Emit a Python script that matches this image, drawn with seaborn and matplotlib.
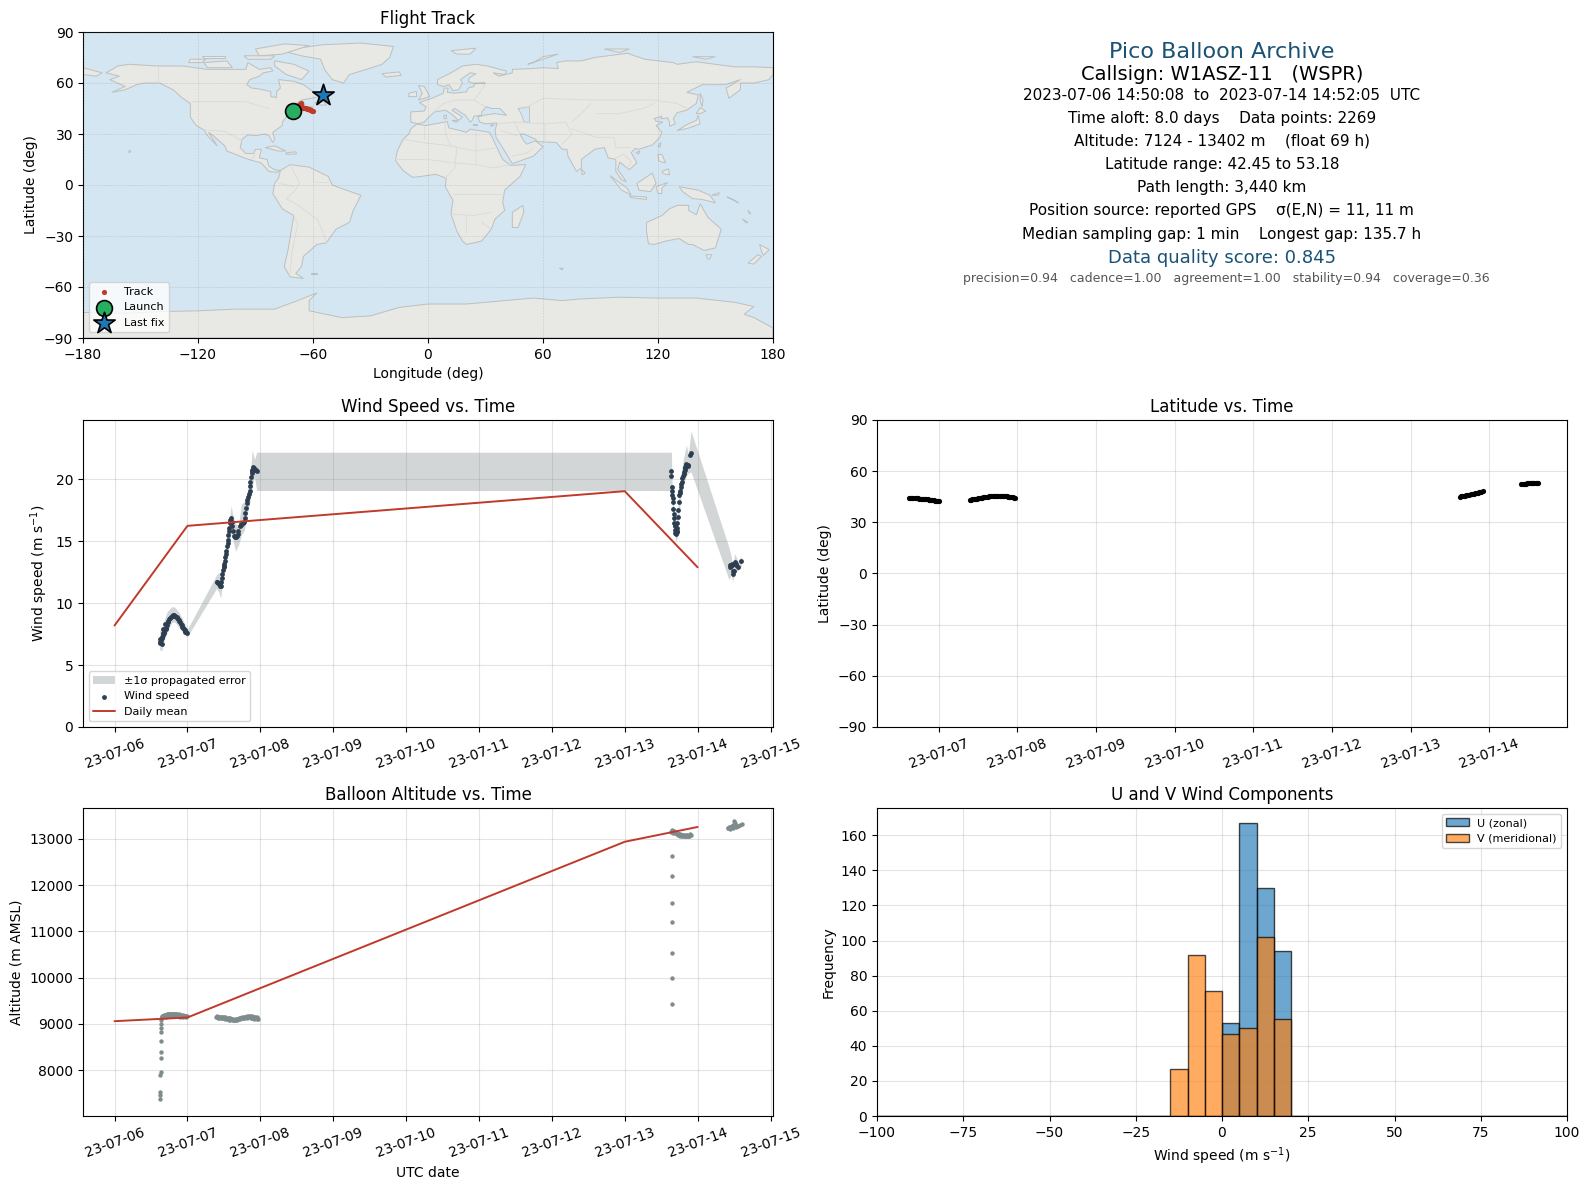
import matplotlib
matplotlib.use('Agg')
import matplotlib.pyplot as plt
import matplotlib.dates as mdates
from matplotlib.colors import to_rgba
import numpy as np
import pandas as pd
import seaborn as sns

# ---- wind speed, day of July 2023 ----
wind_days = [6.62, 6.625, 6.63, 6.64, 6.645, 6.65, 6.655, 6.66, 6.665, 6.67, 6.68, 6.685, 6.69, 6.70, 6.71, 6.72, 6.73,
             6.74, 6.75, 6.76, 6.77, 6.785, 6.80, 6.81, 6.82, 6.835, 6.85, 6.86, 6.87, 6.88, 6.89, 6.90, 6.91, 6.92, 6.93,
             6.94, 6.95, 6.96, 6.97, 6.98, 6.99,
             7.40, 7.41, 7.42, 7.43, 7.44, 7.45, 7.456, 7.463, 7.47, 7.48, 7.488, 7.495, 7.50, 7.505, 7.51, 7.518, 7.524,
             7.53, 7.54, 7.55, 7.556, 7.563, 7.57, 7.577, 7.584, 7.59, 7.597, 7.605, 7.615, 7.625, 7.638, 7.65, 7.66, 7.672,
             7.684, 7.69, 7.70, 7.716, 7.73, 7.74, 7.76, 7.775, 7.785, 7.79, 7.80, 7.812, 7.82, 7.83, 7.84, 7.853, 7.86,
             7.865, 7.875, 7.88, 7.885, 7.89, 7.90, 7.91, 7.92, 7.93, 7.945, 7.96,
             13.64, 13.64, 13.645, 13.65, 13.654, 13.66, 13.664, 13.668, 13.673, 13.676, 13.68, 13.685, 13.69, 13.693, 13.696,
             13.70, 13.705, 13.71, 13.714, 13.72, 13.723, 13.73, 13.737, 13.746, 13.75, 13.755, 13.76, 13.769, 13.775, 13.78,
             13.79, 13.80, 13.807, 13.815, 13.82, 13.825, 13.83, 13.837, 13.845, 13.855, 13.865, 13.874, 13.892, 13.906,
             14.44, 14.45, 14.46, 14.47, 14.478, 14.487, 14.49, 14.50, 14.514, 14.52, 14.53, 14.556, 14.60]
wind_speed = [6.9, 7.1, 6.8, 7.0, 6.7, 7.3, 7.2, 7.6, 7.4, 7.9, 7.7, 7.6, 8.3, 7.9, 8.0, 8.2, 8.5,
              8.6, 8.7, 8.8, 8.9, 9.0, 9.05, 9.05, 9.0, 8.95, 8.9, 8.8, 8.7, 8.65, 8.6, 8.5, 8.35, 8.2, 8.1,
              8.0, 7.9, 7.85, 7.7, 7.65, 7.6,
              11.75, 11.7, 11.6, 11.55, 11.5, 11.4, 11.35, 11.7, 12.0, 12.4, 12.7, 12.9, 13.0, 13.2, 13.4, 13.7, 14.0,
              14.2, 14.6, 14.9, 15.1, 15.5, 15.8, 16.1, 16.45, 16.7, 16.85, 16.6, 16.2, 15.8, 15.4, 15.35, 15.4, 15.35,
              15.4, 15.6, 15.8, 16.2, 16.3, 16.4, 16.5, 16.6, 16.9, 17.3, 17.7, 18.06, 18.3, 18.6, 18.8, 19.1, 19.5,
              19.8, 20.2, 20.5, 20.7, 20.8, 21.0, 20.95, 20.85, 20.8, 20.75, 20.7,
              20.7, 20.24, 19.4, 19.1, 18.74, 18.5, 18.2, 17.6, 16.9, 17.2, 16.5, 16.3, 16.2, 15.9, 15.7,
              15.6, 15.7, 15.75, 15.86, 16.1, 16.45, 17.0, 17.5, 18.2, 18.74, 18.9, 19.1, 19.4, 19.6, 19.8,
              20.1, 20.3, 20.4, 20.6, 20.75, 20.9, 21.0, 21.15, 21.25, 21.2, 21.15, 21.1, 21.96, 22.1,
              13.1, 12.9, 13.0, 13.1, 13.2, 12.4, 12.6, 12.6, 13.35, 13.2, 13.1, 12.95, 13.4]

err_days = [6.62, 6.65, 6.68, 6.72, 6.78, 6.82, 6.88, 6.94, 7.0,
            7.40, 7.43, 7.455, 7.49, 7.53, 7.56, 7.60, 7.62, 7.66, 7.70, 7.74, 7.78, 7.82, 7.86, 7.89, 7.92, 7.95,
            13.64, 13.65, 13.67, 13.69, 13.70, 13.72, 13.74, 13.77, 13.80, 13.845, 13.87, 13.91,
            14.43, 14.46, 14.48, 14.51, 14.55, 14.60]
err_low = [6.2, 6.2, 7.0, 7.6, 8.4, 8.5, 8.1, 7.6, 7.3,
           11.2, 10.9, 10.4, 12.0, 13.4, 14.3, 15.7, 15.2, 14.2, 14.7, 15.5, 15.9, 17.2, 18.3, 19.5, 20.2, 19.1,
           19.1, 18.0, 16.4, 15.5, 15.0, 15.3, 16.9, 18.6, 19.5, 20.3, 20.5, 20.6,
           11.9, 12.3, 11.7, 12.6, 12.6, 13.0]
err_high = [7.8, 8.0, 8.6, 9.3, 9.7, 9.7, 9.3, 8.6, 7.9,
            12.3, 12.5, 12.0, 13.3, 14.6, 15.9, 17.9, 17.2, 16.4, 16.3, 18.0, 18.2, 19.0, 20.4, 22.4, 21.6, 22.2,
            22.2, 19.6, 18.0, 16.9, 16.5, 17.0, 18.6, 20.4, 21.5, 22.8, 22.0, 23.9,
            14.5, 13.8, 13.1, 14.0, 13.4, 13.8]

daily_days = [6, 7, 8, 13, 14]
daily_wind = [8.2, 16.25, 16.72, 19.05, 12.9]
daily_alt = [9060, 9140, 9775, 12940, 13260]

# ---- altitude ----
alt_days = [6.618, 6.622, 6.625, 6.628, 6.632, 6.632, 6.634, 6.634, 6.638, 6.64, 6.642, 6.644, 6.646, 6.648,
            6.65, 6.66, 6.67, 6.68, 6.69, 6.70, 6.71, 6.72, 6.73, 6.74, 6.75, 6.76, 6.77, 6.78, 6.79, 6.80, 6.81, 6.82,
            6.83, 6.84, 6.85, 6.86, 6.87, 6.88, 6.89, 6.90, 6.91, 6.92, 6.93, 6.94, 6.95, 6.96, 6.97, 6.98, 6.99,
            6.66, 6.70, 6.74, 6.78, 6.82, 6.86, 6.90, 6.94, 6.98,
            7.39, 7.40, 7.41, 7.42, 7.43, 7.44, 7.45, 7.46, 7.47, 7.48, 7.49, 7.50, 7.51, 7.52, 7.53, 7.54, 7.55, 7.56,
            7.57, 7.58, 7.59, 7.60, 7.61, 7.62, 7.63, 7.64, 7.65, 7.66, 7.67, 7.68, 7.69, 7.70, 7.71, 7.72, 7.73, 7.74,
            7.75, 7.76, 7.77, 7.78, 7.79, 7.80, 7.81, 7.82, 7.83, 7.84, 7.85, 7.86, 7.87, 7.88, 7.89, 7.90, 7.91, 7.92,
            7.93, 7.94, 7.95, 7.96, 7.97,
            7.42, 7.47, 7.52, 7.57, 7.62, 7.67, 7.72, 7.77, 7.82, 7.87, 7.92, 7.96,
            13.645, 13.642, 13.645, 13.648, 13.645, 13.65, 13.652,
            13.64, 13.65, 13.66, 13.67, 13.68, 13.69, 13.70, 13.71, 13.72, 13.73, 13.74, 13.75, 13.76, 13.77, 13.78, 13.79,
            13.80, 13.81, 13.82, 13.83, 13.84, 13.85, 13.86, 13.87, 13.88, 13.89, 13.90, 13.91,
            13.72, 13.76, 13.80, 13.84, 13.88,
            14.41, 14.42, 14.43, 14.44, 14.45, 14.46, 14.47, 14.48, 14.49, 14.50, 14.51, 14.52, 14.53, 14.54, 14.56, 14.58, 14.615,
            14.44, 14.48, 14.52]
alt_m = [7370, 7463, 7535, 7896, 7968, 8257, 8400, 8625, 8820, 8906, 9000, 9087, 9140, 9160,
         9170, 9175, 9180, 9190, 9185, 9195, 9190, 9205, 9200, 9215, 9210, 9220, 9215, 9225, 9220, 9225, 9220, 9215,
         9210, 9205, 9205, 9195, 9190, 9205, 9200, 9190, 9195, 9180, 9175, 9185, 9180, 9170, 9165, 9180, 9170,
         9150, 9155, 9170, 9180, 9175, 9165, 9160, 9150, 9150,
         9150, 9165, 9140, 9155, 9130, 9145, 9150, 9130, 9140, 9155, 9130, 9145, 9150, 9130, 9130, 9115, 9125, 9105,
         9120, 9095, 9125, 9110, 9100, 9085, 9100, 9085, 9095, 9105, 9110, 9090, 9105, 9115, 9125, 9130, 9135, 9120,
         9150, 9130, 9135, 9150, 9140, 9160, 9150, 9165, 9160, 9145, 9165, 9175, 9150, 9165, 9130, 9150, 9125, 9145,
         9160, 9130, 9140, 9120, 9110,
         9125, 9120, 9105, 9090, 9080, 9085, 9110, 9120, 9130, 9130, 9115, 9100,
         9440, 9990, 10532, 11203, 11615, 12199, 12632,
         13160, 13190, 13140, 13175, 13150, 13130, 13120, 13140, 13120, 13095, 13090, 13105, 13070, 13090, 13060, 13080,
         13060, 13085, 13070, 13055, 13060, 13085, 13070, 13055, 13075, 13095, 13100, 13085,
         13110, 13105, 13095, 13085, 13065,
         13240, 13230, 13250, 13245, 13260, 13250, 13270, 13265, 13300, 13380, 13340, 13290, 13275, 13290, 13280, 13300, 13320,
         13225, 13240, 13260]

# ---- latitude ----
lat_days = [6.62, 6.635, 6.65, 6.665, 6.68, 6.695, 6.71, 6.725, 6.74, 6.755, 6.77, 6.785, 6.80, 6.815, 6.83, 6.845, 6.86,
            6.875, 6.89, 6.905, 6.92, 6.935, 6.95, 6.965, 6.98, 6.99, 7.0,
            7.40, 7.415, 7.43, 7.445, 7.46, 7.475, 7.49, 7.505, 7.52, 7.535, 7.55, 7.565, 7.58, 7.595, 7.61, 7.625, 7.64,
            7.655, 7.67, 7.685, 7.70, 7.715, 7.73, 7.745, 7.76, 7.775, 7.79, 7.805, 7.82, 7.835, 7.85, 7.865, 7.88, 7.895,
            7.91, 7.925, 7.94, 7.955, 7.97,
            13.63, 13.645, 13.66, 13.675, 13.69, 13.705, 13.72, 13.735, 13.75, 13.765, 13.78, 13.795, 13.81, 13.825, 13.84,
            13.855, 13.87, 13.885, 13.90, 13.92,
            14.41, 14.425, 14.44, 14.455, 14.47, 14.485, 14.50, 14.515, 14.53, 14.545, 14.56, 14.575, 14.59, 14.605, 14.62]
lat_deg = [44.4, 44.35, 44.3, 44.25, 44.2, 44.15, 44.1, 44.05, 44.0, 43.9, 43.8, 43.75, 43.7, 43.6, 43.5, 43.45, 43.4,
           43.3, 43.2, 43.1, 43.0, 42.9, 42.8, 42.7, 42.6, 42.5, 42.45,
           43.1, 43.25, 43.4, 43.55, 43.7, 43.8, 43.9, 44.05, 44.2, 44.35, 44.5, 44.65, 44.8, 44.9, 45.0, 45.1, 45.2,
           45.3, 45.4, 45.45, 45.5, 45.55, 45.6, 45.6, 45.6, 45.55, 45.5, 45.45, 45.4, 45.35, 45.3, 45.2, 45.1, 45.0,
           44.9, 44.75, 44.6, 44.45, 44.3,
           45.1, 45.2, 45.3, 45.45, 45.6, 45.75, 45.9, 46.05, 46.2, 46.35, 46.5, 46.65, 46.8, 46.95, 47.1,
           47.35, 47.6, 47.8, 48.0, 48.4,
           52.4, 52.5, 52.6, 52.65, 52.7, 52.8, 52.9, 52.95, 53.0, 53.1, 53.18, 53.15, 53.1, 53.05, 53.0]

# ---- map ----
track_lon = [-70.5, -70, -69.5, -69, -68.5, -68, -67.5, -67, -66.5, -66, -65.5, -65, -64.5, -64, -63.5, -63, -62.5, -62,
             -61.5, -61, -60.5, -60.0, -67.5, -67.1, -66.8, -66.5, -66.2, -55.5, -55.0]
track_lat = [44.5, 44.6, 44.8, 45.0, 45.2, 45.3, 45.5, 45.5, 45.6, 45.6, 45.5, 45.4, 45.3, 45.3, 45.2, 45.0, 44.8, 44.6,
             44.3, 44.0, 43.8, 43.4, 47.0, 47.3, 47.6, 47.9, 48.2, 52.4, 52.7]
launch_lon, launch_lat = [-70.5], [43.7]
last_lon, last_lat = [-54.6], [53.1]

north_america = [(-168, 66), (-164, 68.5), (-162, 70), (-156, 71), (-141, 70), (-128, 70), (-115, 68), (-108, 68), (-95, 68), (-94, 72),
                 (-88, 68), (-82, 69), (-81, 67), (-86, 66), (-88, 64), (-93, 62), (-94.5, 59), (-92, 57), (-88, 56.5), (-82, 55),
                 (-82, 52), (-79, 51.5), (-79, 55), (-77, 57), (-78, 62), (-70, 61), (-65, 59), (-60, 55), (-56, 52), (-66, 50),
                 (-70, 47), (-65, 49), (-64, 46), (-60, 46), (-66, 44), (-70, 43.5), (-70, 41.5), (-74, 40), (-76, 37), (-76, 35),
                 (-81, 31), (-80, 27), (-81, 25), (-83, 29), (-85, 30), (-90, 29), (-94, 29.5), (-97, 27), (-98, 22), (-95, 18.5),
                 (-91, 18.5), (-90, 21), (-87, 21), (-88, 16), (-84, 15), (-83, 11), (-80, 9), (-77, 8.5), (-79, 7.5), (-83, 8),
                 (-87, 13), (-92, 14.5), (-96, 16), (-105, 20), (-106, 23), (-112, 29), (-114.5, 31), (-110, 23), (-115, 29),
                 (-117, 32.5), (-121, 35), (-124, 40), (-124, 48), (-128, 51), (-133, 56), (-140, 60), (-148, 60), (-152, 59),
                 (-158, 56), (-165, 54.5), (-158, 58), (-162, 60), (-166, 62), (-161, 64), (-168, 66)]
greenland = [(-73, 78), (-68, 80.5), (-55, 82.5), (-35, 83.5), (-18, 81.5), (-20, 75), (-24, 71), (-32, 68), (-41, 65), (-44, 60),
             (-50, 62), (-54, 68), (-56, 74), (-66, 76)]
baffin = [(-80, 73), (-70, 71), (-62, 67), (-66, 62), (-74, 65), (-80, 70)]
victoria = [(-117, 72), (-105, 73), (-102, 69), (-115, 69)]
banks = [(-124, 74), (-116, 74), (-118, 72), (-125, 72)]
ellesmere = [(-90, 80), (-75, 83), (-62, 82), (-76, 77), (-88, 76)]
devon = [(-96, 76), (-80, 76), (-82, 74), (-94, 74)]
melville = [(-118, 76), (-106, 76), (-106, 75), (-117, 75)]
newfoundland = [(-59, 48), (-56, 51), (-53, 47), (-56, 47)]
cuba = [(-85, 22), (-80, 23), (-74, 20), (-78, 20)]
hispaniola = [(-74, 19), (-69, 19.5), (-68.5, 18.3), (-74, 18)]
hawaii = [(-156, 20.5), (-155, 19.5), (-156, 19)]
chukotka = [(-180, 69), (-175, 67.5), (-170, 66), (-173, 64), (-180, 65)]
south_america = [(-77, 8.5), (-72, 12), (-62, 10.5), (-52, 5), (-50, 0), (-44, -2.5), (-35, -6), (-39, -15), (-41, -22), (-48, -26),
                 (-53, -34), (-58, -35), (-62, -39), (-65, -42), (-66, -48), (-69, -52), (-65, -55), (-72, -54), (-75, -48), (-73, -38),
                 (-70, -18), (-76, -14), (-81, -5), (-80, 1), (-78, 4)]
falklands = [(-61, -51.5), (-58, -51.5), (-58, -52.3), (-61, -52.3)]
africa = [(-6, 35.8), (-1, 35), (10, 37.3), (11, 33.5), (15, 32.5), (20, 31), (22, 32.8), (32, 31), (33.5, 28), (36, 22), (39, 15),
          (43, 11.5), (51, 12), (48, 5), (40, -3), (39, -10), (40, -15), (35, -20), (33, -26), (28, -33), (20, -35), (18, -33),
          (15, -27), (12, -17), (13, -9), (9, -1), (9.5, 4), (4, 6.3), (-4, 5), (-8, 4.5), (-13, 8.5), (-17, 14.5), (-16, 20),
          (-13, 27), (-10, 30), (-9, 33)]
eurasia = [(-9, 37), (-9, 43), (-2, 43.5), (-1, 46), (-4.5, 48.5), (2, 51), (4, 52), (8, 54), (8.5, 57), (10.5, 57), (10, 54.5),
           (14, 54), (20, 54.8), (21, 57), (24, 58), (24, 59.5), (30, 60), (23, 60), (21, 61), (21.5, 63), (25, 65.5), (22, 66),
           (17, 62), (18, 60), (16, 56), (13, 55.5), (11, 59), (8, 58), (5, 59), (5, 62), (12, 66), (18, 70), (25, 71), (31, 70),
           (41, 67), (40, 65), (34, 66), (37, 64), (44, 66), (44, 68), (54, 68.5), (60, 69), (68, 68.5), (67, 72), (72, 73), (80, 73),
           (87, 75), (104, 77.5), (113, 74), (128, 72), (130, 71), (140, 72.5), (160, 69.5), (170, 69.5), (180, 69), (180, 65),
           (178, 62), (170, 60), (163, 60), (163, 56), (157, 51), (155.5, 57), (163, 62), (155, 59), (143, 59), (135, 54.5), (141, 53),
           (140, 48), (135, 44), (130, 42.5), (128, 39), (129, 36), (126, 34.5), (126, 37), (125, 39.5), (121.5, 39), (122, 40.5),
           (118, 39), (119, 37.5), (122.5, 37), (119, 35), (122, 31), (121, 28), (117, 23.5), (110, 21), (108, 21.5), (106, 19),
           (109, 13), (105, 9), (100, 13.5), (99, 9), (103.5, 2), (101, 3), (98, 8), (98, 15), (94, 16), (92, 22), (87, 21), (80, 15),
           (80, 10), (77.5, 8), (73, 17), (72.5, 21), (70, 21), (67, 25), (57, 25.5), (56, 27), (50, 30), (48, 30), (50, 26), (51.5, 24),
           (56, 26), (60, 22.5), (55, 17), (44, 12.5), (40, 20), (35.5, 28), (35, 32), (36, 36.5), (30, 36), (27, 37), (26, 40),
           (29, 41), (35, 42), (41, 41), (37.5, 45), (33, 45), (30.5, 46), (28, 43), (28, 41), (24, 40.5), (23, 38), (22, 37),
           (19.5, 41), (14, 45), (12.5, 44), (18, 40), (16, 38), (12, 42), (9, 44), (3.5, 43), (0, 39.5), (-2, 37), (-5, 36)]
caspian = [(47, 45), (53, 46), (53, 37), (50, 37), (49, 41)]
uk = [(-5, 58.5), (-2, 58), (1, 52), (-5, 50), (-3, 54)]
ireland = [(-10, 54), (-6, 55), (-6, 52), (-10, 52)]
iceland = [(-24, 65.5), (-15, 66.5), (-14, 64.5), (-22, 63.5)]
svalbard = [(12, 79), (25, 80.5), (22, 77), (15, 77)]
novaya = [(52, 71), (68, 77), (60, 75.5), (55, 72)]
severnaya = [(92, 80), (105, 80), (100, 78)]
new_siberian = [(138, 75.5), (150, 75.5), (145, 74)]
sakhalin = [(142, 54), (143.5, 50), (143, 46), (142, 50)]
japan = [(130, 32), (135, 35.5), (140, 38), (141, 41), (142, 36), (136, 33.5)]
hokkaido = [(140, 42), (142, 45.5), (145, 43.5), (142, 42)]
taiwan = [(120, 23), (121.5, 25), (121, 22)]
hainan = [(108.5, 19), (110.5, 20), (110, 18.3)]
sicily = [(12.5, 38), (15.5, 38), (15, 36.8)]
sardinia = [(8.3, 41), (9.7, 41), (9.5, 39), (8.5, 39)]
crete = [(23.5, 35.5), (26, 35.3), (24, 35)]
cyprus = [(32.5, 35), (34.5, 35.5), (33, 34.6)]
luzon = [(120, 18), (122, 18), (124, 13), (120.5, 14)]
mindanao = [(122, 8), (125.5, 9.5), (126, 6), (123, 6.5)]
sumatra = [(95, 5.5), (104, -2), (106, -6), (101, -3)]
java = [(105, -6.5), (114, -7), (114, -8.5), (106, -7.5)]
borneo = [(109, 1), (117, 7), (119, 1), (116, -4), (110, -3)]
sulawesi = [(119, -1), (125, 1.5), (122, -2), (122, -5), (120, -5)]
new_guinea = [(131, -1), (141, -3), (147, -6), (150, -10.5), (143, -8.5), (138, -8), (133, -4)]
new_britain = [(148, -6), (152, -4.5), (151.5, -6)]
solomon = [(156, -7), (162, -10.5), (159, -8.5)]
vanuatu = [(167, -15), (168.5, -17), (167.5, -16.5)]
new_caledonia = [(164, -20), (167, -22), (166, -22.3)]
sri_lanka = [(80, 9.5), (82, 7), (80.5, 6)]
madagascar = [(44, -16), (49.5, -12), (50, -16), (47, -25), (44, -25)]
australia = [(114, -22), (122, -18), (126, -14), (130, -12), (136, -12), (136, -15), (140, -17.5), (142, -11), (146, -19), (153, -26),
             (150, -37), (144, -38.5), (138, -35), (136, -35), (131, -31.5), (124, -33), (118, -35), (115, -34.5), (114, -27)]
tasmania = [(145, -41), (148, -41), (147, -43.5), (146, -43.5)]
nz_north = [(173, -35), (178, -38), (175, -41.5), (174, -39)]
nz_south = [(172, -41), (174, -42), (170, -46.5), (167, -46)]
kerguelen = [(68.5, -49), (70.5, -49), (70, -50)]
antarctica = [(-180, -75), (-158, -75.5), (-140, -74.5), (-120, -74), (-100, -73), (-80, -73), (-68, -68), (-58, -63.5), (-62, -68), (-62, -74),
              (-45, -78), (-30, -77), (-15, -72), (0, -70), (20, -70), (40, -68), (55, -66.5), (70, -68), (80, -67), (100, -66), (120, -66.5),
              (140, -66.5), (160, -69), (170, -71.5), (165, -76), (170, -78), (180, -84), (180, -90), (-180, -90)]

land_shapes = [north_america, greenland, baffin, victoria, banks, ellesmere, devon, melville, newfoundland, cuba, hispaniola, hawaii,
               chukotka, south_america, falklands, africa, eurasia, uk, ireland, iceland, svalbard, novaya, severnaya, new_siberian,
               sakhalin, japan, hokkaido, taiwan, hainan, sicily, sardinia, crete, cyprus, luzon, mindanao, sumatra, java, borneo,
               sulawesi, new_guinea, new_britain, solomon, vanuatu, new_caledonia, sri_lanka, madagascar, australia, tasmania,
               nz_north, nz_south, kerguelen, antarctica]
water_shapes = [caspian]

borders = [[(-123, 49), (-95, 49), (-83, 45)], [(-141, 70), (-141, 60)], [(-117, 32.5), (-106, 31.5), (-97, 26)],
           [(-92, 15), (-90, 18)], [(-72, 12), (-67, 1), (-70, -4), (-74, -8), (-69, -11), (-58, -20), (-55, -27), (-53, -34)],
           [(-70, -18), (-68, -23), (-71, -40), (-72, -52)], [(-78, 1), (-70, -1)], [(-60, 8), (-60, 2), (-52, 2)],
           [(-13, 27), (-3, 25), (12, 23), (25, 20), (36, 22)], [(25, 31), (25, 12), (34, 10), (43, 12)],
           [(-17, 15), (0, 15), (14, 13), (24, 12)], [(9, 4), (14, 10), (15, 22)], [(13, -5), (30, -5), (40, -5)],
           [(12, -17), (24, -18), (33, -16)], [(20, -28), (20, -18)], [(28, -22), (33, -26)], [(9, 37), (9, 30), (12, 23)],
           [(-2, 35), (-2, 27)], [(3, 43), (8, 48), (15, 50), (24, 50), (30, 46)], [(24, 50), (28, 56), (30, 60)],
           [(36, 36), (45, 37), (48, 30)], [(45, 37), (61, 36), (61, 25)], [(61, 36), (72, 37), (75, 30), (70, 24)],
           [(50, 45), (60, 51), (85, 50), (98, 50), (118, 50), (130, 48), (135, 45)], [(75, 37), (80, 42), (85, 48)],
           [(88, 42), (100, 42), (112, 45), (118, 48)], [(75, 33), (88, 28), (97, 28), (98, 22), (106, 22)],
           [(98, 16), (102, 18), (106, 14), (104, 10)], [(44, 17), (52, 19), (55, 22)], [(38, 32), (47, 29)]]

tick_lons = [-180, -120, -60, 0, 60, 120, 180]
tick_lats = [-90, -60, -30, 0, 30, 60, 90]

# ---- histogram ----
bin_edges = list(range(-100, 105, 5))
u_centers = [2.5, 7.5, 12.5, 17.5]
u_counts = [53, 167, 130, 94]
v_centers = [-12.5, -7.5, -2.5, 2.5, 7.5, 12.5, 17.5]
v_counts = [27, 92, 71, 47, 50, 102, 55]

# ---- text panel ----
header_lines = ['Pico Balloon Archive', 'Callsign: W1ASZ-11   (WSPR)',
                '2023-07-06 14:50:08  to  2023-07-14 14:52:05  UTC',
                'Time aloft: 8.0 days    Data points: 2269',
                'Altitude: 7124 - 13402 m    (float 69 h)',
                'Latitude range: 42.45 to 53.18',
                'Path length: 3,440 km',
                'Position source: reported GPS    σ(E,N) = 11, 11 m',
                'Median sampling gap: 1 min    Longest gap: 135.7 h',
                'Data quality score: 0.845',
                'precision=0.94   cadence=1.00   agreement=1.00   stability=0.94   coverage=0.36']
header_px = [51.7, 74, 95.3, 118.6, 141, 164.3, 187.6, 211, 234.2, 258.1, 278.8]
header_size = [16, 14, 11, 11, 11, 11, 11, 11, 11, 13, 9]
header_color = ['#1a5276', 'black', 'black', 'black', 'black', 'black', 'black', 'black', 'black', '#1a5276', '#555555']
header_shift = [0, 0, 0, 0, 0, 0, 0, -1, 0, 0, 4.5]

RED = '#c0392b'
NAVY = '#2c3e50'
SLATE = '#7f8c8d'
W, H = 1590, 1189


def to_dates(days):
    return pd.Timestamp('2023-07-01') + pd.to_timedelta(np.array(days, dtype=float) - 1, unit='D')


def make_axes(fig, left, top, right, bottom):
    return fig.add_axes([left / W, 1 - bottom / H, (right - left) / W, (bottom - top) / H])


def style_time_axis(ax, start, end):
    ax.set_xlim(to_dates([start])[0], to_dates([end])[0])
    ax.xaxis.set_major_locator(mdates.DayLocator())
    ax.xaxis.set_major_formatter(mdates.DateFormatter('%y-%m-%d'))
    ax.tick_params(axis='x', labelrotation=20)
    ax.set_xlabel('')
    ax.grid(True, alpha=0.35)


sns.set_style('ticks', {'axes.edgecolor': 'black', 'text.color': 'black', 'axes.labelcolor': 'black',
                        'xtick.color': 'black', 'ytick.color': 'black', 'font.family': ['DejaVu Sans'],
                        'xtick.bottom': True, 'ytick.left': True, 'grid.color': '#b0b0b0'})
plt.rcParams.update({'font.size': 10, 'axes.titlesize': 12, 'axes.labelsize': 10, 'axes.linewidth': 0.8,
                     'xtick.major.size': 3.5, 'ytick.major.size': 3.5, 'grid.linewidth': 0.8})

fig = plt.figure(figsize=(15.9, 11.89), dpi=100)

# Flight track map
ax_map = make_axes(fig, 83, 32, 773, 338)
ax_map.set_facecolor('#d4e6f1')
for shape in land_shapes:
    xs, ys = zip(*shape)
    ax_map.fill(xs, ys, facecolor='#e8e8e4', edgecolor='#bcc0c0', linewidth=0.7, zorder=1)
for shape in water_shapes:
    xs, ys = zip(*shape)
    ax_map.fill(xs, ys, facecolor='#d4e6f1', edgecolor='#bcc0c0', linewidth=0.6, zorder=1.1)
for line in borders:
    xs, ys = zip(*line)
    ax_map.plot(xs, ys, color='#d9dbd9', linewidth=0.6, zorder=1.2)
ax_map.set_axisbelow(False)
ax_map.grid(True, color='gray', linestyle='--', linewidth=0.4, alpha=0.3)
sns.scatterplot(x=track_lon, y=track_lat, color=RED, s=14, linewidth=0, label='Track', ax=ax_map, zorder=3)
sns.scatterplot(x=launch_lon, y=launch_lat, color='#27ae60', marker='o', s=130, edgecolor='black', linewidth=1.2,
                label='Launch', ax=ax_map, zorder=4)
sns.scatterplot(x=last_lon, y=last_lat, color='#1f77b4', marker='*', s=260, edgecolor='black', linewidth=1.2,
                label='Last fix', ax=ax_map, zorder=4)
ax_map.set_xlim(-180, 180)
ax_map.set_ylim(-90, 90)
ax_map.set_xticks(tick_lons)
ax_map.set_yticks(tick_lats)
ax_map.set_xticklabels([str(v).replace('-', '\u2212') for v in tick_lons])
ax_map.set_yticklabels([str(v).replace('-', '\u2212') for v in tick_lats])
ax_map.set_xlabel('Longitude (deg)')
ax_map.set_ylabel('Latitude (deg)')
ax_map.set_title('Flight Track')
ax_map.legend(loc='lower left', fontsize=8)

# Summary text
ax_txt = make_axes(fig, 877, 31, 1567, 338)
ax_txt.axis('off')
for line, py, size, colour, shift in zip(header_lines, header_px, header_size, header_color, header_shift):
    ax_txt.text(0.5 + shift / 690, 1 - (py - 31) / 307, line, ha='center', va='center', fontsize=size, color=colour,
                transform=ax_txt.transAxes)

# Wind speed
ax_wind = make_axes(fig, 83, 420, 773, 727)
ax_wind.fill_between(to_dates(err_days), err_low, err_high, color=SLATE, alpha=0.35, linewidth=0, label='±1σ propagated error')
sns.scatterplot(x=to_dates(wind_days), y=wind_speed, color=NAVY, s=12, linewidth=0, label='Wind speed', ax=ax_wind, zorder=3)
sns.lineplot(x=to_dates(daily_days), y=daily_wind, color=RED, linewidth=1.4, label='Daily mean', ax=ax_wind,
             errorbar=None, zorder=4)
style_time_axis(ax_wind, 5.567, 15.034)
ax_wind.set_ylim(0, 24.8)
ax_wind.set_ylabel('Wind speed (m s$^{-1}$)')
ax_wind.set_title('Wind Speed vs. Time')
ax_wind.legend(loc='lower left', fontsize=8)

# Latitude
ax_lat = make_axes(fig, 877, 420, 1567, 727)
sns.scatterplot(x=to_dates(lat_days), y=lat_deg, color='black', s=14, linewidth=0, ax=ax_lat)
style_time_axis(ax_lat, 6.216, 14.99)
ax_lat.set_ylim(-90, 90)
ax_lat.set_yticks(tick_lats)
ax_lat.set_yticklabels([str(v).replace('-', '\u2212') for v in tick_lats])
ax_lat.set_ylabel('Latitude (deg)')
ax_lat.set_title('Latitude vs. Time')

# Altitude
ax_alt = make_axes(fig, 83, 808, 773, 1116)
sns.scatterplot(x=to_dates(alt_days), y=alt_m, color=SLATE, s=10, linewidth=0, ax=ax_alt, zorder=3)
sns.lineplot(x=to_dates(daily_days), y=daily_alt, color=RED, linewidth=1.4, ax=ax_alt, errorbar=None, zorder=4)
style_time_axis(ax_alt, 5.567, 15.034)
ax_alt.set_ylim(7010, 13670)
ax_alt.set_xlabel('UTC date')
ax_alt.set_ylabel('Altitude (m AMSL)')
ax_alt.set_title('Balloon Altitude vs. Time')

# U and V histogram
ax_hist = make_axes(fig, 877, 808, 1567, 1116)
edge = (0, 0, 0, 0.7)
sns.histplot(x=u_centers, weights=u_counts, bins=bin_edges, facecolor=to_rgba('#1f77b4', 0.65), edgecolor=edge, linewidth=1,
             label='U (zonal)', ax=ax_hist)
sns.histplot(x=v_centers, weights=v_counts, bins=bin_edges, facecolor=to_rgba('#ff7f0e', 0.65), edgecolor=edge, linewidth=1,
             label='V (meridional)', ax=ax_hist)
ax_hist.set_xlim(-100, 100)
ax_hist.set_ylim(0, 175.5)
ax_hist.set_xlabel('Wind speed (m s$^{-1}$)')
ax_hist.set_ylabel('Frequency')
ax_hist.set_title('U and V Wind Components')
ax_hist.grid(True, alpha=0.35)
ax_hist.legend(loc='upper right', fontsize=8)

fig.savefig('out.png', dpi=100)
